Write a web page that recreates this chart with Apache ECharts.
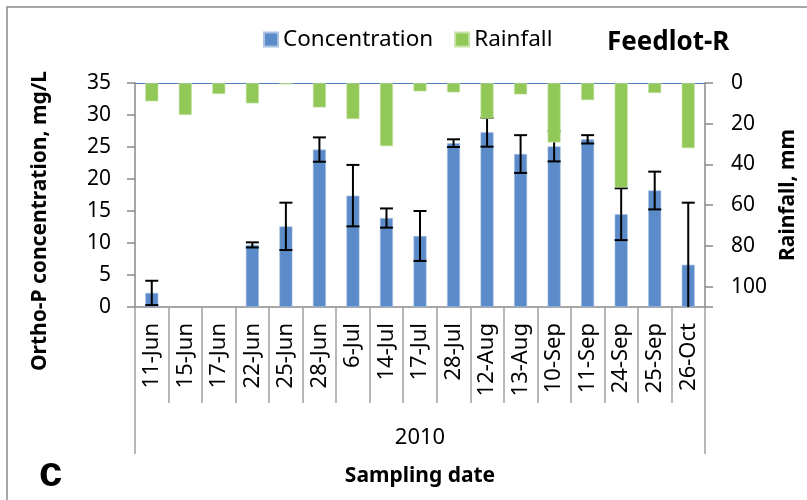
<!DOCTYPE html>
<html>
<head>
<meta charset="utf-8">
<script src="https://cdn.jsdelivr.net/npm/echarts@6/dist/echarts.min.js"></script>
<style>html,body{margin:0;padding:0;background:#fff;}#c{width:807px;height:500px;}</style>
</head>
<body>
<div id="c"></div>
<script>
const categories = ['11-Jun','15-Jun','17-Jun','22-Jun','25-Jun','28-Jun','6-Jul','14-Jul','17-Jul','28-Jul','12-Aug','13-Aug','10-Sep','11-Sep','24-Sep','25-Sep','26-Oct'];
const concentration = [2.2, null, null, 9.7, 12.6, 24.6, 17.4, 13.9, 11.1, 25.6, 27.3, 23.9, 25.1, 26.2, 14.5, 18.2, 6.6];
const concentrationError = [1.9, null, null, 0.4, 3.7, 1.9, 4.8, 1.5, 3.9, 0.6, 2.25, 2.95, 2.35, 0.65, 4.05, 2.95, 9.7];
const rainfall = [9, 15.7, 5.4, 10, 0.7, 12, 17.7, 31, 4.1, 4.6, 17.5, 5.6, 29.2, 8.4, 51.3, 4.9, 32];
const yearGroup = ['2010'];
const leftTicks = {min: 0, max: 35, interval: 5};
const rightTicks = {min: 0, max: 110, interval: 20, hidden: [110]};

const FONT = 'Noto Sans';
const chart = echarts.init(document.getElementById('c'));
const errData = categories.map((c, i) => [i, concentration[i], concentrationError[i]]);

chart.setOption({
  animation: false,
  backgroundColor: '#fff',
  title: [
    {text: 'Feedlot-R', left: 602, top: 25, textStyle: {fontFamily: FONT, fontWeight: 'bold', fontSize: 26, color: '#000'}},
    {text: 'c', left: 34, top: 448, textStyle: {fontFamily: 'Liberation Sans', fontWeight: 'bold', fontSize: 42, color: '#000'}}
  ],
  legend: {
    left: 258, top: 23, itemWidth: 14, itemHeight: 14, itemGap: 21, icon: 'rect',
    textStyle: {fontFamily: FONT, fontSize: 22.5, color: '#000'},
    data: ['Concentration', 'Rainfall']
  },
  graphic: [{
    type: 'rect', silent: true, z: -1,
    shape: {x: 7, y: 7, width: 900, height: 700},
    style: {fill: 'none', stroke: '#8a8a8a', lineWidth: 1.5}
  }],
  grid: {left: 135, right: 101, top: 83, bottom: 193, containLabel: false},
  xAxis: [
    {
      type: 'category', data: categories, position: 'bottom', boundaryGap: true,
      axisLine: {lineStyle: {color: '#8a8a8a', width: 1.5}},
      axisTick: {show: true, length: 96, lineStyle: {color: '#a0a0a0', width: 1.5}},
      axisLabel: {rotate: 90, margin: 16, fontFamily: FONT, fontSize: 22, color: '#000', interval: 0}
    },
    {
      type: 'category', data: categories, position: 'top', boundaryGap: true,
      axisLine: {lineStyle: {color: '#4f81bd', width: 1.2}},
      axisTick: {show: false}, axisLabel: {show: false}
    },
    {
      type: 'category', data: yearGroup, position: 'bottom', boundaryGap: true,
      axisLine: {show: false},
      axisTick: {show: true, length: 147, lineStyle: {color: '#a0a0a0', width: 1.5}},
      axisLabel: {margin: 120, fontFamily: FONT, fontSize: 22, color: '#000'},
      name: 'Sampling date', nameLocation: 'middle', nameGap: 159,
      nameTextStyle: {fontFamily: FONT, fontWeight: 'bold', fontSize: 21, color: '#000'}
    }
  ],
  yAxis: [
    {
      type: 'value', min: leftTicks.min, max: leftTicks.max, interval: leftTicks.interval, position: 'left',
      splitLine: {show: false},
      axisLine: {show: true, lineStyle: {color: '#8a8a8a', width: 1.5}},
      axisTick: {show: true, inside: false, length: 8, lineStyle: {color: '#8a8a8a', width: 1.5}},
      axisLabel: {margin: 24, fontFamily: FONT, fontSize: 21, color: '#000'},
      name: 'Ortho-P concentration, mg/L', nameLocation: 'middle', nameGap: 84, nameRotate: 90,
      nameTextStyle: {fontFamily: FONT, fontWeight: 'bold', fontSize: 21, color: '#000', padding: [0, 52, 0, 0]}
    },
    {
      type: 'value', min: rightTicks.min, max: rightTicks.max, interval: rightTicks.interval, position: 'right', inverse: true,
      splitLine: {show: false},
      axisLine: {show: true, lineStyle: {color: '#8a8a8a', width: 1.5}},
      axisTick: {show: true, inside: false, length: 8, lineStyle: {color: '#8a8a8a', width: 1.5}},
      axisLabel: {margin: 26, fontFamily: FONT, fontSize: 21, color: '#000',
        formatter: v => rightTicks.hidden.indexOf(v) >= 0 ? '' : String(v)},
      name: 'Rainfall, mm', nameLocation: 'middle', nameGap: 73, nameRotate: 90,
      nameTextStyle: {fontFamily: FONT, fontWeight: 'bold', fontSize: 21, color: '#000'}
    }
  ],
  series: [
    {
      name: 'Concentration', type: 'bar', xAxisIndex: 0, yAxisIndex: 0, barWidth: 13, z: 2,
      itemStyle: {color: '#5b8bc8', borderColor: '#a9c2e4', borderWidth: 0.6},
      data: concentration
    },
    {
      name: 'err', type: 'custom', xAxisIndex: 0, yAxisIndex: 0, z: 3, clip: true, silent: true,
      data: errData,
      renderItem: function (params, api) {
        const v = api.value(1), e = api.value(2);
        if (v == null || isNaN(v) || e == null || isNaN(e)) return null;
        const x = api.value(0);
        const hi = api.coord([x, v + e]);
        const lo = api.coord([x, v - e]);
        const half = 6.5;
        const style = {stroke: '#000', lineWidth: 2};
        return {
          type: 'group',
          children: [
            {type: 'line', shape: {x1: hi[0], y1: hi[1], x2: lo[0], y2: lo[1]}, style: style},
            {type: 'line', shape: {x1: hi[0] - half, y1: hi[1], x2: hi[0] + half, y2: hi[1]}, style: style},
            {type: 'line', shape: {x1: lo[0] - half, y1: lo[1], x2: lo[0] + half, y2: lo[1]}, style: style}
          ]
        };
      }
    },
    {
      name: 'Rainfall', type: 'bar', xAxisIndex: 1, yAxisIndex: 1, barWidth: 13, z: 4,
      itemStyle: {color: '#92c857', borderColor: '#c6e3a6', borderWidth: 0.6},
      data: rainfall
    }
  ]
});
</script>
</body>
</html>
